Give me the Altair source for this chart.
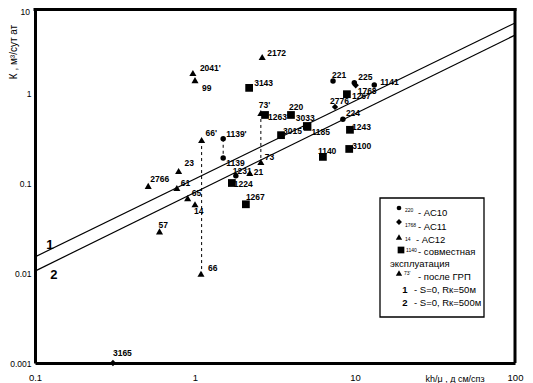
import altair as alt
import pandas as pd

# ---------------- data ----------------
# AC10 - circles
c_lab = ["221", "225", "1141", "224", "1139'", "1139", "1231"]
c_x = [7.29, 9.9, 13.2, 8.4, 1.5, 1.5, 1.8]
c_y = [1.36, 1.3, 1.23, 0.51, 0.31, 0.19, 0.12]

# AC11 - diamonds
d_lab = ["1768", "2776", "3165"]
d_x = [10.1, 7.5, 0.307]
d_y = [1.22, 0.70, 0.001]

# AC12 - triangles
t_lab = ["2172", "2041'", "99", "73'", "66'", "23", "2766", "61", "65", "14", "57", "66", "73", "21"]
t_x = [2.63, 0.97, 1.0, 2.58, 1.1, 0.79, 0.51, 0.77, 0.90, 1.0, 0.60, 1.09, 2.58, 2.2]
t_y = [2.51, 1.67, 1.39, 0.60, 0.30, 0.136, 0.093, 0.088, 0.068, 0.058, 0.029, 0.0098, 0.171, 0.129]

# joint operation - squares
s_lab = ["3143", "1263'", "220", "3033", "1185", "3015", "1243", "3100", "1140", "1224", "1267", "1267"]
s_x = [2.18, 2.74, 3.98, 5.0, 5.05, 3.45, 9.3, 9.2, 6.3, 1.7, 2.08, 8.9]
s_y = [1.14, 0.57, 0.57, 0.43, 0.42, 0.34, 0.39, 0.239, 0.195, 0.10, 0.058, 0.97]

# model lines (1: S=0, Rk=50 m ; 2: S=0, Rk=500 m)
line_id = ["1", "1", "2", "2"]
line_x = [0.1, 100, 0.1, 100]
line_y = [0.0151, 6.0, 0.0105, 4.4]

# dashed links (before / after fracturing)
link_x = [1.1, 1.5, 2.58]
link_top = [0.30, 0.31, 0.60]
link_bot = [0.0098, 0.19, 0.171]

y_ticks = [0.001, 0.01, 0.1, 1]
y_top_tick = "10"
x_ticks = [0.1, 1, 10, 100]

# ---------------- label offsets (pixels: left edge / vertical centre) ----------------
c_off = [(-1, -6), (4, -6), (6, -3), (3, -6), (3, -5), (3, 5), (-3, -5)]
d_off = [(2, 6), (-5, -6), (0, -10)]
t_off = [(5, -4), (7, -5), (7, 8), (-2, -8), (4, -7), (6, -8), (2, -7), (4, -5),
         (4, -5), (-1, 7), (-1, -6), (7, -6), (4, -5), (4, -1)]
s_off = [(5, -5), (3, 2), (-2, -8), (-11, -8), (4, 5), (2, -4), (2, -3), (3, -3),
         (-5, -6), (2, 1), (0, -7), (5, 2)]

rows = []
for grp, labs, xs, ys, offs in [("c", c_lab, c_x, c_y, c_off), ("d", d_lab, d_x, d_y, d_off),
                                ("t", t_lab, t_x, t_y, t_off), ("s", s_lab, s_x, s_y, s_off)]:
    for l, x, y, (dx, dy) in zip(labs, xs, ys, offs):
        rows.append({"grp": grp, "label": l, "x": x, "y": y, "dx": dx, "dy": dy})
pts = pd.DataFrame(rows)

lines = pd.DataFrame({"line": line_id, "x": line_x, "y": line_y})
links = pd.DataFrame({"x": link_x, "y": link_top, "y2": link_bot})

W, H = 480, 355
XS = alt.Scale(type="log", domain=[0.1, 100], range=[0, W])
YS = alt.Scale(type="log", domain=[0.001, 10], range=[H, -5])
FONT = "Liberation Sans"

x_axis = alt.Axis(values=x_ticks, format="~g", ticks=False, grid=False, domainWidth=3,
                  domainColor="black", labelColor="black", labelFont=FONT, labelFontSize=9.5,
                  labelPadding=9, labelFlush=False, title=None)
y_axis = alt.Axis(values=y_ticks, format="~g", ticks=False, grid=False, domainWidth=3,
                  domainColor="black", labelColor="black", labelFont=FONT, labelFontSize=8.5,
                  labelPadding=4, title=None)


def X(f):
    return alt.X(f, scale=XS, axis=x_axis)


def Y(f):
    return alt.Y(f, scale=YS, axis=y_axis)


base = alt.Chart(pts)
shapes = {"c": ("circle", 30), "d": ("diamond", 40), "t": ("triangle-up", 50), "s": ("square", 60)}
layers = []

# model lines
layers.append(alt.Chart(lines).mark_line(color="black", strokeWidth=1.2).encode(
    x=X("x:Q"), y=Y("y:Q"), detail="line:N"))

# dashed links
layers.append(alt.Chart(links).mark_rule(color="black", strokeWidth=1, strokeDash=[3, 3]).encode(
    x=X("x:Q"), y=Y("y:Q"), y2="y2:Q"))

for g, (shp, sz) in shapes.items():
    layers.append(base.transform_filter(alt.datum.grp == g).mark_point(
        shape=shp, size=sz, filled=True, color="black", opacity=1).encode(
        x=X("x:Q"), y=Y("y:Q")))

# point labels
layers.append(base.transform_calculate(
    lx="datum.x * pow(10, datum.dx / 160)",
    ly="datum.y * pow(10, -datum.dy / 90)").mark_text(
    align="left", baseline="middle", font=FONT, fontSize=8.5, fontWeight="bold", color="black").encode(
    x=X("lx:Q"), y=Y("ly:Q"), text="label:N"))

# line labels "1", "2"
line_lab = pd.DataFrame({"t": ["1", "2"], "x": [0.124, 0.131], "y": [0.0205, 0.0095]})
layers.append(alt.Chart(line_lab).mark_text(font=FONT, fontSize=13, fontWeight="bold", color="black").encode(
    x=X("x:Q"), y=Y("y:Q"), text="t:N"))

one = pd.DataFrame({"a": [0]})
OX, OY = 35, 8  # page offset of the plot origin


def vtext(txt, px, py, size=9.5, align="left", weight="normal", angle=0, baseline="middle"):
    kw = dict(align=align, baseline=baseline, font=FONT, fontSize=size, fontWeight=weight,
              color="black", text=txt)
    if angle:
        kw["angle"] = angle
    return alt.Chart(one).mark_text(**kw).encode(x=alt.value(px - OX), y=alt.value(py - OY))


def vpoint(shp, px, py, size):
    return alt.Chart(one).mark_point(shape=shp, size=size, filled=True, color="black", opacity=1).encode(
        x=alt.value(px - OX), y=alt.value(py - OY))


# frame: top and right borders (top kept inside the page)
layers.append(alt.Chart(one).mark_rule(color="black", strokeWidth=3).encode(
    x=alt.value(-1.5), x2=alt.value(W + 1.5), y=alt.value(1.5)))
layers.append(alt.Chart(one).mark_rule(color="black", strokeWidth=3).encode(
    x=alt.value(W), y=alt.value(0), y2=alt.value(H)))

# top y tick label (kept inside the page)
layers.append(vtext(y_top_tick, 30, 8, size=8.5, align="right", baseline="top"))

# axis titles
layers.append(vtext("К , м³/сут ат", 14, 52, size=10, align="center", angle=270))
layers.append(vtext("kh/μ , д см/спз", 455, 379, size=9, align="center"))

# legend box
layers.append(alt.Chart(one).mark_rect(fill="white", stroke="black", strokeWidth=1.3).encode(
    x=alt.value(380 - OX), x2=alt.value(484 - OX), y=alt.value(198 - OY), y2=alt.value(317 - OY)))
layers += [
    vpoint("circle", 399, 208, 22), vtext("220", 405, 210, size=5),
    vtext("- АС10", 418, 213),
    vpoint("diamond", 399, 222, 35), vtext("1768", 405, 225, size=5),
    vtext("- АС11", 418, 227),
    vpoint("triangle-up", 399, 237, 40), vtext("14", 405, 239, size=5),
    vtext("-  АС12", 416, 240),
    vpoint("square", 401, 250, 45), vtext("1140", 406, 250, size=5),
    vtext("- совместная", 418, 252),
    vtext("эксплуатация", 390, 264),
    vpoint("triangle-up", 399, 273, 40), vtext("73'", 404, 273, size=5),
    vtext("- после ГРП", 418, 277),
    vtext("1", 405, 290, weight="bold", align="center"), vtext("- S=0, Rк=50м", 414, 290),
    vtext("2", 405, 303, weight="bold", align="center"), vtext("- S=0, Rк=500м", 414, 303),
]

chart = alt.layer(*layers).properties(
    width=W, height=H,
    autosize=alt.AutoSizeParams(type="none"),
    padding={"left": 27, "top": 0, "right": 10, "bottom": 25},
).configure_view(stroke=None).configure(background="white")

chart.save("out.html", embed_options={"renderer": "svg", "actions": False})
